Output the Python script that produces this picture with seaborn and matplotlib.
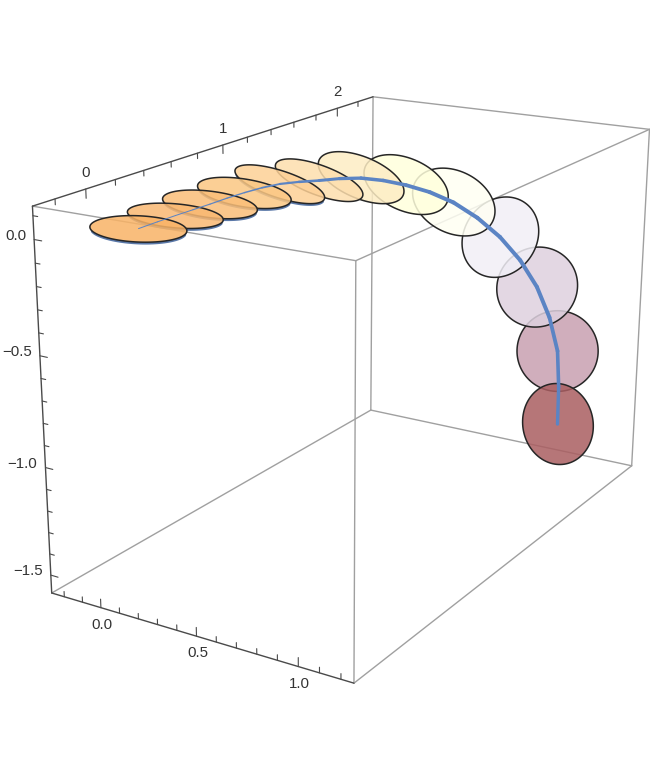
import numpy as np
import matplotlib
matplotlib.use("Agg")
import matplotlib.pyplot as plt
from matplotlib.colors import to_rgb
import seaborn as sns

sns.set_theme(style="white")
plt.rcParams['font.family'] = ['Liberation Sans', 'DejaVu Sans']

# data ranges of the box
x_range = (-0.27, 1.26)
y_range = (-0.342, 2.35)
z_range = (-1.585, 0.14)

# disks
disk_x = [0.0, 0.083, 0.167, 0.25, 0.333, 0.417, 0.5, 0.583, 0.667, 0.75, 0.833, 0.917, 1.0]
disk_y = [0.002, 0.148, 0.28, 0.415, 0.562, 0.741, 0.954, 1.207, 1.504, 1.822, 2.071, 2.156, 2.01]
disk_z = [0.006, 0.041, 0.073, 0.105, 0.123, 0.112, 0.09, 0.017, -0.116, -0.342, -0.64, -0.98, -1.303]
disk_tilt = [4.0, 6.0, 8.0, 10.0, 18.0, 38.0, 46.0, 54.0, 64.0, -60.0, -62.0, -72.0, -78.0]
disk_yaw = [-66.0, -54.0, -69.0, -75.0, -69.0, 0.0, 3.0, 6.0, 8.0, -3.0, 12.0, 30.0, -6.0]
disk_colour = ['#fabe7d', '#fac387', '#fbc88c', '#fccf96', '#fdd7a5', '#fde3b9', '#fdf0cd',
               '#ffffe1', '#fffff5', '#f3f1f7', '#e3d8e4', '#d0aebd', '#b77679']
disk_radius = 0.2

# curve through the disks
curve_x = [0.0, 0.042, 0.083, 0.125, 0.167, 0.208, 0.25, 0.292, 0.333, 0.375, 0.417, 0.458, 0.5,
           0.542, 0.583, 0.625, 0.667, 0.708, 0.75, 0.792, 0.833, 0.875, 0.917, 0.958, 1.0]
curve_y = [0.002, 0.076, 0.148, 0.215, 0.28, 0.347, 0.415, 0.486, 0.562, 0.647, 0.741, 0.843, 0.954,
           1.075, 1.207, 1.351, 1.504, 1.666, 1.822, 1.961, 2.071, 2.138, 2.156, 2.097, 2.01]
curve_z = [0.006, 0.024, 0.041, 0.057, 0.073, 0.09, 0.105, 0.117, 0.123, 0.12, 0.112, 0.105, 0.09,
           0.06, 0.017, -0.04, -0.116, -0.219, -0.342, -0.484, -0.64, -0.808, -0.98, -1.143, -1.303]
curve_px = [1, 1, 1, 1.1, 1.2, 1.3, 1.5, 1.8, 2.2, 2.6, 3, 3.3, 3.5, 3.6, 3.8, 4, 4, 4, 4, 4, 4, 3.8, 3.6, 3.4, 3.2]

# tick labels
x_labels = [(0, '0.0'), (0.5, '0.5'), (1, '1.0')]
y_labels = [(0, '0'), (1, '1'), (2, '2')]
z_labels = [(0, '0.0'), (-0.5, '\u22120.5'), (-1, '\u22121.0'), (-1.5, '\u22121.5')]

# camera: where the box corners land in the picture
corner_px = {(0, 0, 1): (32, 206), (1, 0, 1): (357, 261), (0, 0, 0): (52, 593), (1, 0, 0): (353, 683),
             (0, 1, 1): (373, 97), (1, 1, 1): (649, 129), (0, 1, 0): (371, 410), (1, 1, 0): (632, 466)}
rows, rhs = [], []
for (i, j, k), (u, v) in corner_px.items():
    X = [x_range[i], y_range[j], z_range[k], 1.0]
    rows.append(X + [0, 0, 0, 0] + [-u * c for c in X[:3]]); rhs.append(u)
    rows.append([0, 0, 0, 0] + X + [-v * c for c in X[:3]]); rhs.append(v)
sol = np.linalg.lstsq(np.array(rows), np.array(rhs, float), rcond=None)[0]
P = np.append(sol, 1.0).reshape(3, 4)


def proj(x, y, z):
    x, y, z = np.broadcast_arrays(np.asarray(x, float), np.asarray(y, float), np.asarray(z, float))
    q = P @ np.stack([x, y, z, np.ones_like(x)], 0)
    return q[0] / q[2], q[1] / q[2]


fig = plt.figure(figsize=(6.5, 7.75), dpi=100)
ax = fig.add_axes([0, 0, 1, 1])
GR = '#a0a0a0'
DK = '#4a4a4a'
edges = [((0, 0, 1), (1, 0, 1), GR), ((1, 0, 1), (1, 0, 0), GR), ((0, 1, 1), (1, 1, 1), GR),
         ((1, 0, 1), (1, 1, 1), GR), ((1, 1, 1), (1, 1, 0), GR), ((1, 1, 0), (1, 0, 0), GR),
         ((0, 1, 1), (0, 1, 0), GR), ((0, 1, 0), (1, 1, 0), GR), ((0, 1, 0), (0, 0, 0), GR),
         ((0, 0, 1), (0, 0, 0), DK), ((0, 0, 0), (1, 0, 0), DK), ((0, 0, 1), (0, 1, 1), DK)]
for a, b, c in edges:
    u, v = proj([x_range[a[0]], x_range[b[0]]], [y_range[a[1]], y_range[b[1]]], [z_range[a[2]], z_range[b[2]]])
    sns.lineplot(x=u, y=v, color=c, lw=1.0, sort=False, estimator=None, ax=ax, legend=False)


def tick(x, y, z, dx, dz):
    u, v = proj([x, x + dx], [y, y], [z, z + dz])
    ax.plot(u, v, color=DK, lw=0.8)


for t in range(-2, 13):
    tick(t / 10, y_range[0], z_range[0], 0, 0.04 if t % 5 == 0 else 0.025)
for t in range(-1, 12):
    tick(x_range[0], t / 5, z_range[1], 0, -(0.04 if t % 5 == 0 else 0.025))
for t in range(-15, 2):
    tick(x_range[0], y_range[0], t / 10, 0.04 if t % 5 == 0 else 0.025, 0)
txt = dict(fontsize=10.8, color='#333333', va='center')
for t, l in x_labels:
    u, v = proj(t, y_range[0], z_range[0])
    ax.text(u + 1, v + 17, l, ha='center', **txt)
for t, l in y_labels:
    u, v = proj(x_range[0], t, z_range[1])
    ax.text(u, v - 16, l, ha='center', **txt)
for t, l in z_labels:
    u, v = proj(x_range[0], y_range[0], t)
    ax.text(u - 8, v - 4, l, ha='right', **txt)

th = np.linspace(0, 2 * np.pi, 120)
face_alpha = 0.85
for i in range(len(disk_x)):
    ph, ps = np.radians(disk_tilt[i]), np.radians(disk_yaw[i])
    e1 = np.array([np.cos(ps), np.sin(ps), 0.0])
    e2 = np.array([-np.sin(ps) * np.cos(ph), np.cos(ps) * np.cos(ph), -np.sin(ph)])
    X = disk_x[i] + disk_radius * (np.cos(th) * e1[0] + np.sin(th) * e2[0])
    Y = disk_y[i] + disk_radius * (np.cos(th) * e1[1] + np.sin(th) * e2[1])
    Z = disk_z[i] + disk_radius * (np.cos(th) * e1[2] + np.sin(th) * e2[2])
    order = 4 - 0.1 * disk_y[i]
    u, v = proj(X, Y, Z)
    if i < 5:
        u2, v2 = proj(X, Y, Z - 0.01)
        low = v2 > v[np.argmin(u)] + (u - u[np.argmin(u)]) * (v[np.argmax(u)] - v[np.argmin(u)]) / (u.max() - u.min())
        uu, vv, uo, vo = u[low], v[low], u2[low], v2[low]
        key = np.argsort(uu)
        ax.fill(np.r_[uu[key], uo[key][::-1]], np.r_[vv[key], vo[key][::-1]], fc='#5a78a8', ec='none', zorder=order)
    c = np.clip((np.array(to_rgb(disk_colour[i])) - (1 - face_alpha)) / face_alpha, 0, 1)
    ax.fill(u, v, fc=(*c, face_alpha), ec='#262626', lw=1.1, zorder=order)

u, v = proj(curve_x, curve_y, curve_z)
for i in range(len(u) - 1):
    sns.lineplot(x=u[i:i + 2], y=v[i:i + 2], color='#5b84c4', lw=curve_px[i] * 0.72, sort=False,
                 estimator=None, ax=ax, legend=False, zorder=6, solid_capstyle='round')

ax.set_xlim(0, 650)
ax.set_ylim(775, 0)
ax.axis('off')
fig.savefig('out.png')
